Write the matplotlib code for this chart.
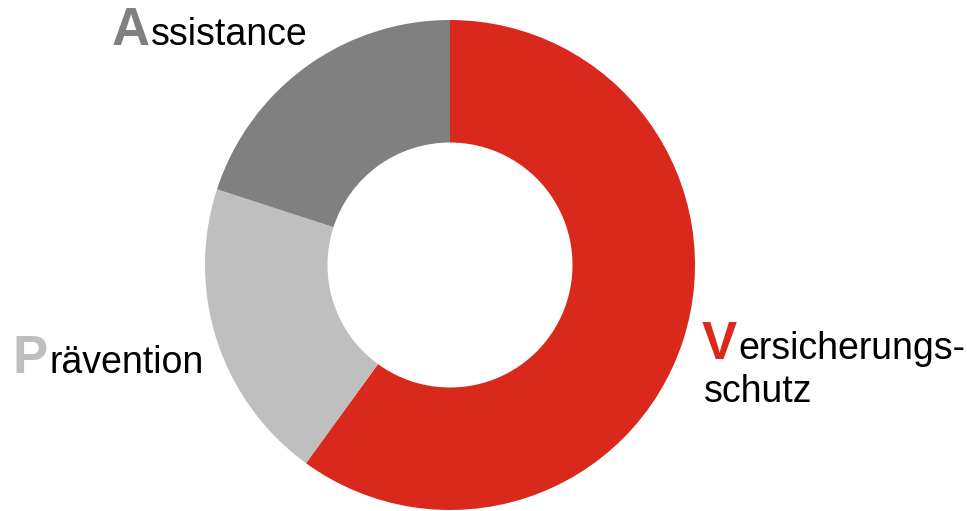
import matplotlib
matplotlib.use("Agg")
import matplotlib.pyplot as plt

categories = ["Versicherungsschutz", "Prävention", "Assistance"]
values = [60, 20, 20]
colors = ["#D9291C", "#BFBFBF", "#808080"]
# label parts: initial, rest lines
label_initials = ["V", "P", "A"]
label_rests = [["ersicherungs-", "schutz"], ["rävention"], ["ssistance"]]

W, H = 967, 511
DPI = 100
fig = plt.figure(figsize=(W / DPI, H / DPI), dpi=DPI)
fig.patch.set_facecolor("white")

cx, cy, R = 450, 265, 245
ax = fig.add_axes([(cx - R) / W, (H - cy - R) / H, 2 * R / W, 2 * R / H])
ax.pie(values, colors=colors, startangle=90, counterclock=False, radius=1.0,
       wedgeprops=dict(width=0.5, edgecolor="none", linewidth=0))
ax.set_xlim(-1, 1)
ax.set_ylim(-1, 1)
ax.set_aspect("equal")
ax.axis("off")

font = "Liberation Sans"
big = 38
small = 27
# label anchor positions (pixels: left x, baseline y from top), line spacing
anchors = [(702, 359), (13, 373), (112, 45)]
line_gap = 43

fig.canvas.draw()
renderer = fig.canvas.get_renderer()
for init, rests, col, (lx, ly) in zip(label_initials, label_rests, colors, anchors):
    t = fig.text(lx / W, 1 - ly / H, init, fontsize=big, fontweight="bold",
                 color=col, family=font, va="baseline", ha="left")
    bb = t.get_window_extent(renderer)
    fig.text(bb.x1 / W + 1 / W, 1 - ly / H, rests[0], fontsize=small,
             color="black", family=font, va="baseline", ha="left")
    for i, line in enumerate(rests[1:], start=1):
        fig.text((lx + 2) / W, 1 - (ly + i * line_gap) / H, line, fontsize=small,
                 color="black", family=font, va="baseline", ha="left")

fig.savefig("out.png", dpi=DPI, facecolor="white")
